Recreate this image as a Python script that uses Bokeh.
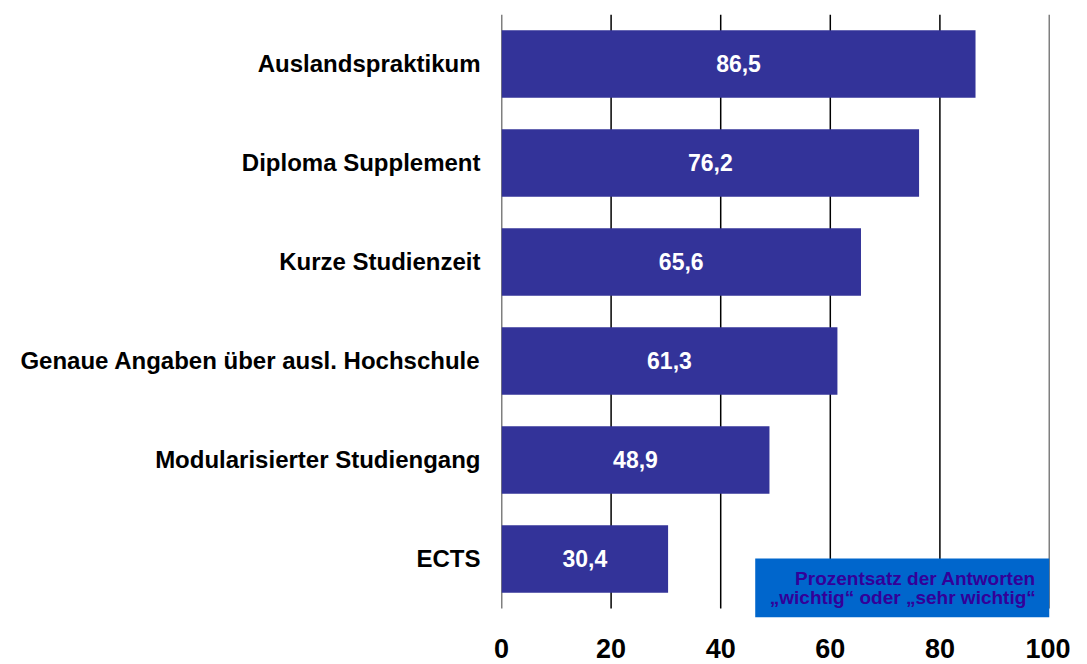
from bokeh.plotting import figure
from bokeh.models import ColumnDataSource, FixedTicker, BoxAnnotation, Label
from bokeh.embed import file_html
from bokeh.resources import INLINE

categories = ["ECTS", "Modularisierter Studiengang", "Genaue Angaben über ausl. Hochschule",
              "Kurze Studienzeit", "Diploma Supplement", "Auslandspraktikum"]
values = [30.4, 48.9, 61.3, 65.6, 76.2, 86.5]
x_ticks = [0, 20, 40, 60, 80, 100]
note_lines = ["Prozentsatz der Antworten", "„wichtig“ oder „sehr wichtig“"]

ypos = list(range(len(categories)))
labels = [f"{v:.1f}".replace(".", ",") for v in values]
src = ColumnDataSource(dict(y=ypos, v=values, half=[v / 2 for v in values], lab=labels))

p = figure(width=1070, height=664, x_range=(0, 100), y_range=(-0.591, 5.5),
           output_backend="svg", toolbar_location=None,
           min_border_left=501, min_border_right=21, min_border_top=14, min_border_bottom=47)
p.outline_line_color = None
p.background_fill_color = "white"
p.grid.visible = False

p.segment(x0=x_ticks, x1=x_ticks, y0=[-0.5] * len(x_ticks), y1=[5.5] * len(x_ticks),
          line_color="black", line_width=1.5)

p.hbar(y="y", right="v", left=0, height=0.68, source=src, fill_color="#333399", line_color=None)
p.text(x="half", y="y", text="lab", source=src, text_color="white", text_font_size="23px",
       text_font_style="bold", text_align="center", text_baseline="middle",
       text_font={"value": "Liberation Sans"})

box = BoxAnnotation(left=46.3, right=100, bottom=-0.591, top=0.005, fill_color="#0066CC",
                    fill_alpha=1.0, line_color=None)
p.add_layout(box)
for i, t in enumerate(note_lines):
    p.add_layout(Label(x=97.5, y=-0.197 - 0.192 * i, text=t, text_align="right", text_baseline="middle",
                       text_color="#330099", text_font_size="19px", text_font_style="bold",
                       text_font="Liberation Sans"))

p.xaxis.ticker = FixedTicker(ticks=x_ticks)
p.xaxis.axis_line_color = None
p.xaxis.major_tick_line_color = None
p.xaxis.minor_tick_line_color = None
p.xaxis.major_label_text_font = "Liberation Sans"
p.xaxis.major_label_text_font_size = "27px"
p.xaxis.major_label_text_font_style = "bold"
p.xaxis.major_label_text_color = "black"
p.xaxis.major_label_standoff = 15

p.yaxis.ticker = FixedTicker(ticks=ypos)
p.yaxis.major_label_overrides = {i: c for i, c in enumerate(categories)}
p.yaxis.axis_line_color = None
p.yaxis.major_tick_line_color = None
p.yaxis.minor_tick_line_color = None
p.yaxis.major_label_text_font = "Liberation Sans"
p.yaxis.major_label_text_font_size = "24px"
p.yaxis.major_label_text_font_style = "bold"
p.yaxis.major_label_text_color = "black"
p.yaxis.major_label_standoff = 15

open("out.html", "w").write(file_html(p, INLINE))
